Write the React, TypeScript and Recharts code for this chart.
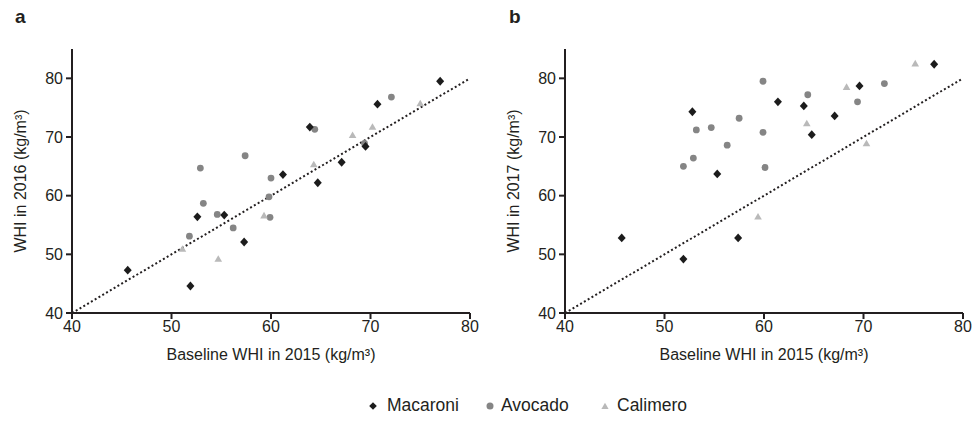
import React from "react";
import {
  ScatterChart,
  Scatter,
  XAxis,
  YAxis,
  ReferenceLine,
} from "recharts";

// [baseline 2015, follow-up] pairs
const macaroni2016 = [
  [45.6, 47.3], [51.9, 44.6], [52.6, 56.4], [55.3, 56.7], [57.3, 52.1], [61.2, 63.6],
  [63.9, 71.7], [64.7, 62.2], [67.1, 65.7], [69.5, 68.4], [70.7, 75.6], [77.0, 79.5],
];
const avocado2016 = [
  [51.8, 53.1], [52.9, 64.7], [53.2, 58.7], [54.6, 56.8], [56.2, 54.5], [57.4, 66.8],
  [59.8, 59.8], [59.9, 56.3], [60.0, 63.0], [64.4, 71.3], [69.4, 68.9], [72.1, 76.8],
];
const calimero2016 = [
  [51.1, 50.9], [54.7, 49.2], [59.3, 56.6], [64.3, 65.3], [68.2, 70.3], [70.2, 71.7], [75.0, 75.7],
];

const macaroni2017 = [
  [45.7, 52.8], [51.9, 49.2], [52.8, 74.3], [55.3, 63.7], [57.4, 52.8], [61.4, 76.0],
  [64.0, 75.3], [64.8, 70.4], [67.1, 73.6], [69.6, 78.7], [77.1, 82.4],
];
const avocado2017 = [
  [51.9, 65.0], [52.9, 66.4], [53.2, 71.2], [54.7, 71.6], [56.3, 68.6], [57.5, 73.2],
  [59.9, 79.5], [59.9, 70.8], [60.1, 64.8], [64.4, 77.2], [69.4, 76.0], [72.1, 79.1],
];
const calimero2017 = [
  [59.4, 56.4], [64.3, 72.3], [68.3, 78.5], [70.3, 68.9], [75.2, 82.5],
];

const identityLine = [
  { x: 40, y: 40 },
  { x: 80, y: 80 },
];

const xTicks = [40, 50, 60, 70, 80];
const yTicks = [40, 50, 60, 70, 80];

const INK = "#231f20";
const C_MAC = "#1c1c1c";
const C_AVO = "#858585";
const C_CAL = "#b9b9b9";
const FONT = "'Liberation Sans', Arial, Helvetica, sans-serif";

const toPts = (arr: number[][]) => arr.map(([x, y]) => ({ x, y }));

const Diamond = (p: any) => (
  <polygon
    points={`${p.cx},${p.cy - 4.4} ${p.cx + 4},${p.cy} ${p.cx},${p.cy + 4.4} ${p.cx - 4},${p.cy}`}
    fill={C_MAC}
  />
);
const Dot = (p: any) => <circle cx={p.cx} cy={p.cy} r={3.4} fill={C_AVO} />;
const Tri = (p: any) => (
  <polygon
    points={`${p.cx},${p.cy - 3.8} ${p.cx + 3.8},${p.cy + 2.8} ${p.cx - 3.8},${p.cy + 2.8}`}
    fill={C_CAL}
  />
);

function Panel({ mac, avo, cal, year, width, marginRight }: any) {
  const tick = { fontSize: 16, fill: INK, fontFamily: FONT };
  return (
    <ScatterChart
      width={width}
      height={370}
      margin={{ top: 49, right: marginRight, bottom: 27, left: 12 }}
    >
      <XAxis
        type="number"
        dataKey="x"
        domain={[40, 80]}
        ticks={xTicks}
        height={30}
        tick={tick}
        tickSize={6}
        tickMargin={2}
        axisLine={{ stroke: INK, strokeWidth: 2 }}
        tickLine={{ stroke: INK, strokeWidth: 2 }}
        allowDataOverflow
        label={{
          value: "Baseline WHI in 2015 (kg/m³)",
          position: "bottom",
          offset: 6,
          style: { fontSize: 16, fill: INK, fontFamily: FONT },
        }}
      />
      <YAxis
        type="number"
        dataKey="y"
        domain={[40, 85]}
        ticks={yTicks}
        width={60}
        tick={tick}
        tickSize={6}
        tickMargin={3}
        axisLine={{ stroke: INK, strokeWidth: 2 }}
        tickLine={{ stroke: INK, strokeWidth: 2 }}
        allowDataOverflow
        label={{
          value: `WHI in ${year} (kg/m³)`,
          angle: -90,
          position: "insideLeft",
          offset: 8,
          style: { fontSize: 16, fill: INK, fontFamily: FONT, textAnchor: "middle" },
        }}
      />
      <ReferenceLine
        segment={identityLine}
        stroke={INK}
        strokeWidth={2}
        strokeDasharray="2 2.4"
      />
      <Scatter data={toPts(avo)} shape={Dot} isAnimationActive={false} />
      <Scatter data={toPts(cal)} shape={Tri} isAnimationActive={false} />
      <Scatter data={toPts(mac)} shape={Diamond} isAnimationActive={false} />
    </ScatterChart>
  );
}

function LegendItem({ kind, label, left, gap }: { kind: string; label: string; left: number; gap: number }) {
  return (
    <div style={{ position: "absolute", left, top: 0, display: "flex", alignItems: "center", whiteSpace: "nowrap" }}>
      <svg width={10} height={10} style={{ marginRight: gap }}>
        {kind === "d" && <polygon points="5,1.2 8.8,5 5,8.8 1.2,5" fill={C_MAC} />}
        {kind === "c" && <circle cx={5} cy={5} r={3.5} fill={C_AVO} />}
        {kind === "t" && <polygon points="5,1.8 8.6,8 1.4,8" fill={C_CAL} />}
      </svg>
      {label}
    </div>
  );
}

export default function App() {
  return (
    <div
      style={{
        position: "absolute",
        left: 0,
        top: 0,
        width: 974,
        height: 433,
        overflow: "hidden",
        background: "#fff",
        fontFamily: FONT,
        color: INK,
      }}
    >
      <div style={{ position: "absolute", left: 0, top: 0 }}>
        <Panel mac={macaroni2016} avo={avocado2016} cal={calimero2016} year="2016" width={490} marginRight={20} />
      </div>
      <div style={{ position: "absolute", left: 493, top: 0 }}>
        <Panel mac={macaroni2017} avo={avocado2017} cal={calimero2017} year="2017" width={481} marginRight={11} />
      </div>
      <div style={{ position: "absolute", left: 15, top: 6, fontSize: 19, fontWeight: "bold" }}>a</div>
      <div style={{ position: "absolute", left: 509, top: 6, fontSize: 19, fontWeight: "bold" }}>b</div>
      <div style={{ position: "absolute", left: 0, top: 395, width: 974, height: 24, fontSize: 17.5 }}>
        <LegendItem kind="d" label="Macaroni" left={368} gap={9} />
        <LegendItem kind="c" label="Avocado" left={485} gap={6} />
        <LegendItem kind="t" label="Calimero" left={600} gap={7} />
      </div>
    </div>
  );
}
